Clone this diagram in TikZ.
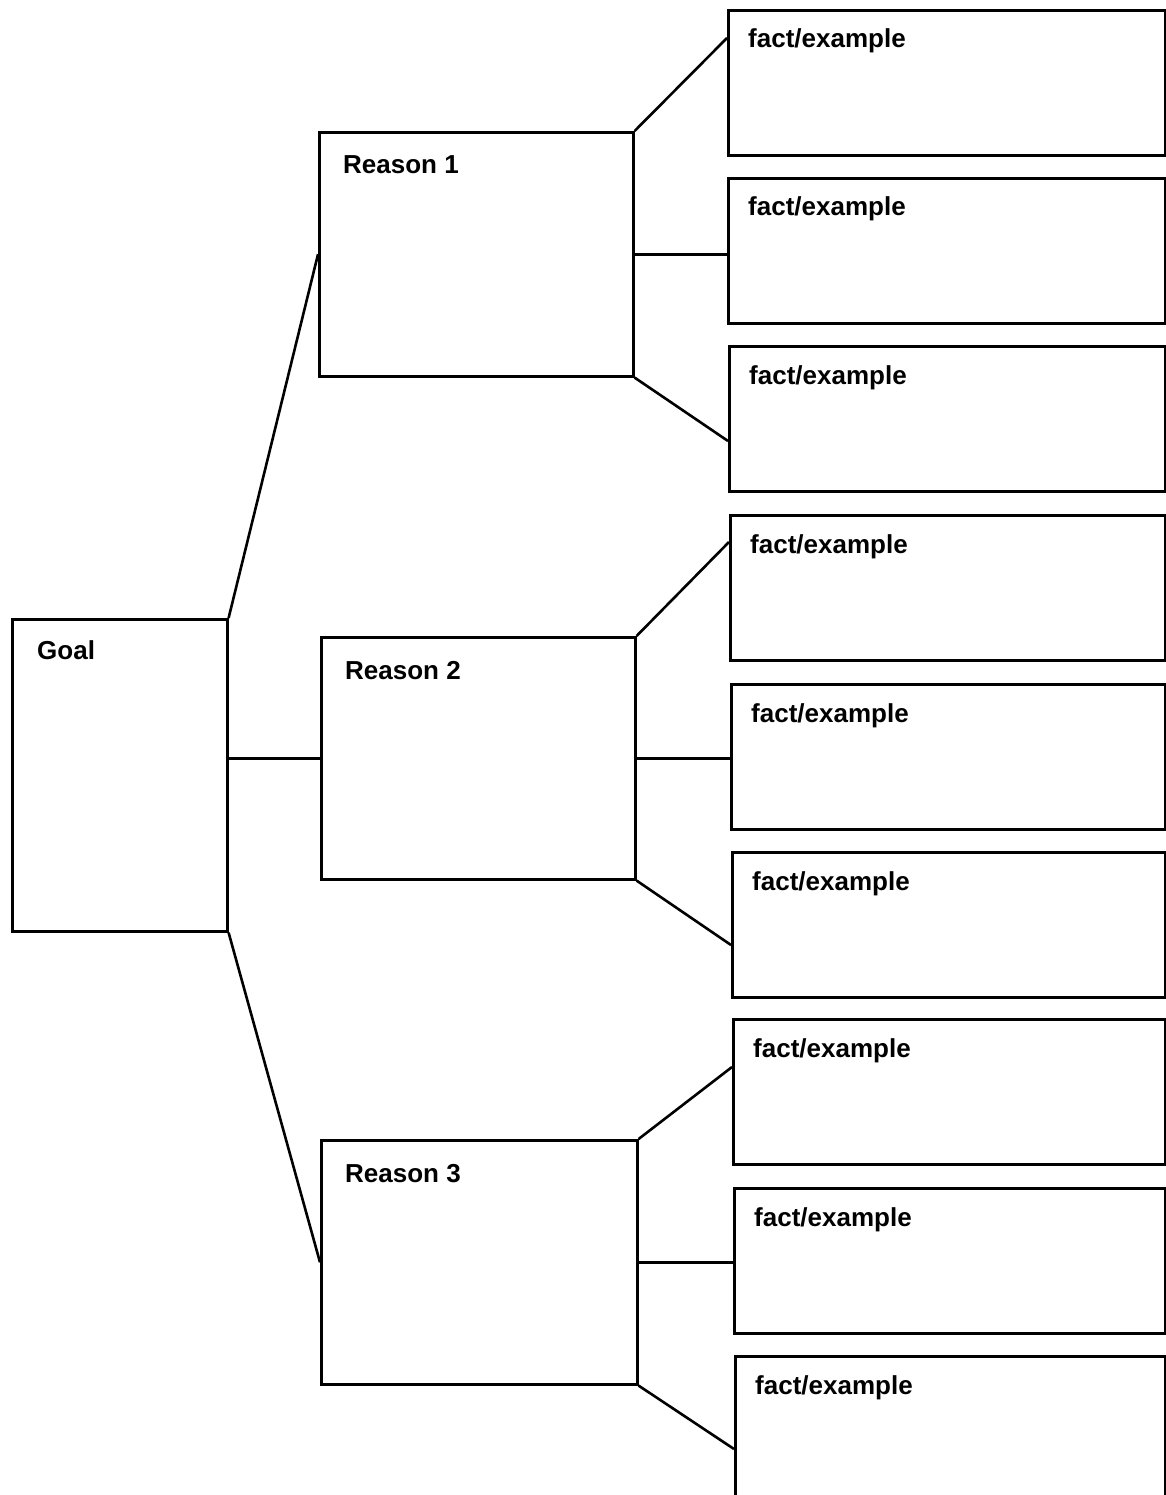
\documentclass[tikz,border=0pt]{standalone}
\usepackage{fontspec}
\setmainfont{Liberation Sans}
\usetikzlibrary{positioning, calc}

\begin{document}
\begin{tikzpicture}[x=1pt, y=-1pt,
    boite/.style={draw, line width=2.6pt, inner sep=0pt, anchor=north west},
    titre/.style={anchor=base west, inner sep=0pt, font=\fontsize{26}{30}\selectfont\bfseries},
    lien/.style={line width=2.6pt}]
    \useasboundingbox (0,0) rectangle (1166,1495);

    % But
    \node[boite, minimum width=215pt, minimum height=312pt] (goal) at (11,618) {};
    \node[titre] (goaltxt) at ([shift={(26pt,-41pt)}]goal.north west) {Goal};

    % Raisons
    \node[boite, minimum width=314pt, minimum height=244pt] (r1) at (318,131) {};
    \node[boite, minimum width=314pt, minimum height=242pt] (r2) at (320,636) {};
    \node[boite, minimum width=316pt, minimum height=244pt] (r3) at (320,1139) {};
    \foreach \r/\n in {r1/1, r2/2, r3/3}
        \node[titre] (\r txt) at ([shift={(25pt,-43pt)}]\r.north west) {Reason \n};

    % Faits / exemples
    \foreach \i/\x/\y in {1/727/9, 2/727/177, 3/728/345, 4/729/514, 5/730/683,
                          6/731/851, 7/732/1018, 8/733/1187, 9/734/1355} {
        \pgfmathsetmacro{\larg}{1164-\x}
        \node[boite, minimum width=\larg pt, minimum height=145pt] (f\i) at (\x,\y) {};
        \node[titre] (f\i txt) at ([shift={(21pt,-39pt)}]f\i.north west) {fact/example};
    }

    % Liens but -> raisons
    \draw[lien] (goal.north east) -- (r1.west);
    \draw[lien] (goal.east |- r2.west) -- (r2.west);
    \draw[lien] (goal.south east) -- (r3.west);

    % Liens raisons -> faits
    \foreach \r/\a/\b/\c/\ha/\hc in {r1/f1/f2/f3/29/96, r2/f4/f5/f6/28/94, r3/f7/f8/f9/49/94} {
        \draw[lien] (\r.north east) -- ([yshift=-\ha pt]\a.north west);
        \draw[lien] (\r.east) -- (\r.east -| \b.west);
        \draw[lien] (\r.south east) -- ([yshift=-\hc pt]\c.north west);
    }
\end{tikzpicture}
\end{document}
